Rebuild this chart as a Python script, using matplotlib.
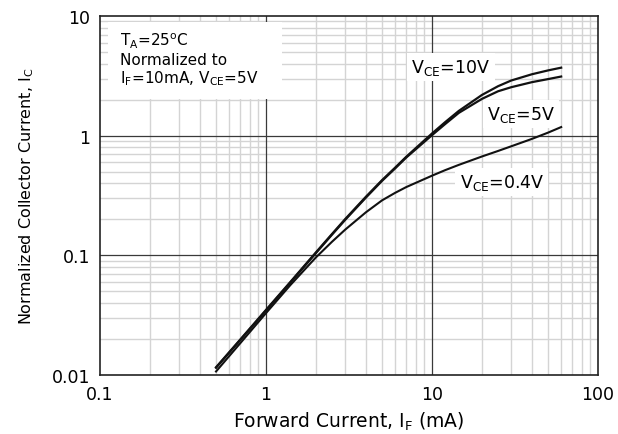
import numpy as np
import matplotlib
matplotlib.use("Agg")
import matplotlib.pyplot as plt
from matplotlib.patches import Rectangle
from matplotlib.ticker import LogLocator, NullFormatter, FixedLocator, FixedFormatter

plt.rcParams['font.family'] = ['DejaVu Sans']
plt.rcParams['mathtext.fontset'] = 'dejavusans'

# forward current (mA)
if_ma = [0.5, 0.7, 1, 1.4, 2, 2.5, 3, 4, 5, 6, 7, 10, 12, 14.5, 20, 25, 30, 40, 50, 60]
# normalized collector current for each VCE
ic_10v = [0.0116, 0.0198, 0.0350, 0.0598, 0.106, 0.151, 0.201, 0.309, 0.425, 0.541, 0.667, 1.043,
          1.297, 1.61, 2.19, 2.59, 2.89, 3.26, 3.51, 3.70]
ic_5v = [0.0115, 0.0196, 0.0346, 0.0590, 0.1045, 0.149, 0.198, 0.304, 0.419, 0.533, 0.657, 1.01,
         1.25, 1.55, 2.03, 2.35, 2.54, 2.8, 2.97, 3.12]
ic_04v = [0.0107, 0.01845, 0.0329, 0.0563, 0.0962, 0.130, 0.164, 0.229, 0.288, 0.333, 0.372, 0.463,
          0.515, 0.57, 0.67, 0.745, 0.815, 0.94, 1.06, 1.18]

x_ticks = [0.1, 1, 10, 100]
x_labels = ['0.1', '1', '10', '100']
y_ticks = [0.01, 0.1, 1, 10]
y_labels = ['0.01', '0.1', '1', '10']

fig = plt.figure(figsize=(6.18, 4.35), dpi=100)
ax = fig.add_axes([100/618, 1-376/435, 498/618, 359/435])
ax.set_xscale('log')
ax.set_yscale('log')
ax.set_xlim(0.1, 100)
ax.set_ylim(0.01, 10)

ax.xaxis.set_major_locator(FixedLocator(x_ticks))
ax.xaxis.set_major_formatter(FixedFormatter(x_labels))
ax.yaxis.set_major_locator(FixedLocator(y_ticks))
ax.yaxis.set_major_formatter(FixedFormatter(y_labels))
ax.xaxis.set_minor_locator(LogLocator(base=10, subs=np.arange(2, 10)))
ax.yaxis.set_minor_locator(LogLocator(base=10, subs=np.arange(2, 10)))
ax.xaxis.set_minor_formatter(NullFormatter())
ax.yaxis.set_minor_formatter(NullFormatter())

# light minor grid, dark decade lines on top of it
ax.grid(which='minor', color='#d4d4d4', lw=1.0)
ax.set_axisbelow(True)
for xv in x_ticks[1:-1]:
    ax.axvline(xv, color='#3a3a3a', lw=0.9, zorder=1)
for yv in y_ticks[1:-1]:
    ax.axhline(yv, color='#3a3a3a', lw=0.9, zorder=1)

ax.tick_params(which='both', length=0, labelsize=12.5, pad=7)
for s in ax.spines.values():
    s.set_color('#222222')
    s.set_linewidth(1.2)

ax.plot(if_ma, ic_10v, color='#111111', lw=1.6, zorder=3)
ax.plot(if_ma, ic_5v, color='#111111', lw=1.6, zorder=3)
ax.plot(if_ma, ic_04v, color='#111111', lw=1.5, zorder=3)

# white panel behind the conditions note
ax.add_patch(Rectangle((0.016, 0.769), 0.35, 0.215, transform=ax.transAxes,
                       facecolor='white', edgecolor='none', zorder=2))
ax.text(0.04, 0.958, 'T$_\\mathregular{A}$=25$^\\mathregular{o}$C\nNormalized to\n'
        'I$_\\mathregular{F}$=10mA, V$_\\mathregular{CE}$=5V',
        transform=ax.transAxes, ha='left', va='top', fontsize=11,
        linespacing=1.1, zorder=4)

box = dict(facecolor='white', edgecolor='none', pad=3)
ax.text(13, 3.76, 'V$_\\mathregular{CE}$=10V', ha='center', va='center', fontsize=12.5, bbox=box, zorder=2.5)
ax.text(34.4, 1.52, 'V$_\\mathregular{CE}$=5V', ha='center', va='center', fontsize=12.5, bbox=box, zorder=2.5)
ax.text(26.4, 0.41, 'V$_\\mathregular{CE}$=0.4V', ha='center', va='center', fontsize=12.5, bbox=box, zorder=2.5)

ax.set_xlabel('Forward Current, I$_\\mathregular{F}$ (mA)', fontsize=13.5, labelpad=5)
ax.set_ylabel('Normalized Collector Current, I$_\\mathregular{C}$', fontsize=11.5, labelpad=11)

fig.savefig('out.png', dpi=100)
